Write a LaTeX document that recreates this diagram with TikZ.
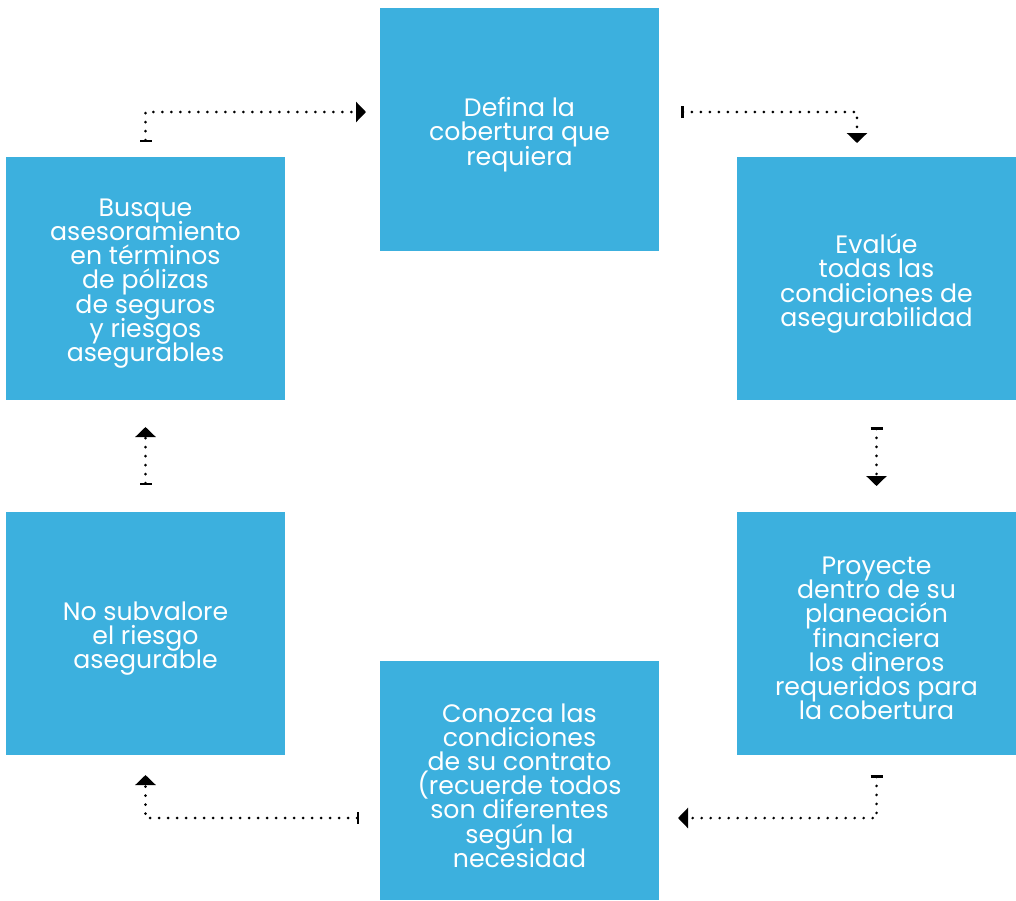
\documentclass[tikz,border=0pt]{standalone}
\usepackage{fontspec}
\setmainfont{Poppins}
\usetikzlibrary{arrows.meta}
\definecolor{boxblue}{HTML}{3CB0DE}
\newcommand\myboxfont{\fontsize{25.2pt}{24.2pt}\selectfont\lineskiplimit=-100pt\relax\lineskip=0pt\relax}
\tikzset{
  stepbox/.style={draw=none, fill=boxblue, minimum width=279pt, minimum height=243pt,
    inner sep=0pt, outer sep=0pt},
  boxtext/.style={align=center, text=white, font=\myboxfont, inner sep=0pt, yshift=-5pt},
  conn/.style={line width=2.8pt, line cap=round, dash pattern=on 0pt off 9pt,
    {Bar[width=12pt,line width=2.5pt]}-{Triangle[length=10pt,width=20pt]}}
}
\begin{document}
\begin{tikzpicture}[x=1pt,y=-1pt]
\useasboundingbox (0,0) rectangle (1016,900);
\node[stepbox, label={[boxtext]center:Defina la\\cobertura que\\requiera}] (top) at (519.5,129.5) {};
\node[stepbox, label={[boxtext]center:Busque\\asesoramiento\\en términos\\de pólizas\\de seguros\\y riesgos\\asegurables}] (lu) at (145.5,278.5) {};
\node[stepbox, label={[boxtext]center:Evalúe\\todas las\\condiciones de\\asegurabilidad}] (ru) at (876.5,278.5) {};
\node[stepbox, label={[boxtext]center:No subvalore\\el riesgo\\asegurable}] (ll) at (145.5,633.5) {};
\node[stepbox, label={[boxtext]center:Proyecte\\dentro de su\\planeación\\financiera\\los dineros\\requeridos para\\la cobertura}] (rl) at (876.5,633.5) {};
\node[stepbox, minimum height=239pt, label={[boxtext]center:Conozca las\\condiciones\\de su contrato\\(recuerde todos\\son diferentes\\según la\\necesidad}] (bot) at (519.5,780.5) {};
\draw[conn, shorten <=15pt, shorten >=14pt] (lu.north) |- ([yshift=17.5pt]top.west);
\draw[conn, shorten <=22pt, shorten >=14pt] ([yshift=17.5pt]top.east) -| ([xshift=-19.5pt]ru.north);
\draw[conn, shorten <=27pt, shorten >=26pt] (ru.south) -- (rl.north);
\draw[conn, shorten <=20pt, shorten >=19pt] (rl.south) |- ([yshift=-37.5pt]bot.east);
\draw[conn, shorten <=21pt, shorten >=20pt] ([yshift=-37.5pt]bot.west) -| (ll.south);
\draw[conn, shorten <=27pt, shorten >=27pt] (ll.north) -- (lu.south);
\end{tikzpicture}
\end{document}
